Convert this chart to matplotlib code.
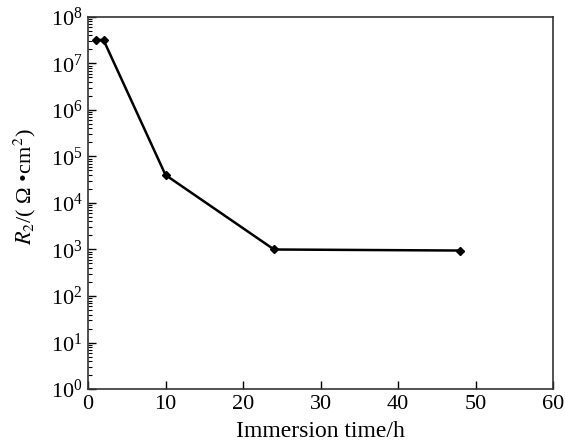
import numpy as np
import matplotlib
matplotlib.use('Agg')
from matplotlib import pyplot as plt
from matplotlib.ticker import LogLocator, NullFormatter, MultipleLocator

plt.rcParams['font.family'] = ['Liberation Serif', 'DejaVu Serif']
plt.rcParams['mathtext.fontset'] = 'stix'

time_h = [1, 2, 10, 24, 48]
r2 = [3.2e7, 3.2e7, 4.0e4, 1.0e3, 9.5e2]

fig = plt.figure(figsize=(5.65, 4.41), dpi=100)
ax = fig.add_axes([0.1558, 0.1179, 0.823, 0.8436])

ax.plot(time_h, r2, color='black', lw=1.8, marker='D', ms=4.5, mfc='black', mec='black')

ax.set_yscale('log')
ax.set_ylim(1, 1e8)
ax.set_xlim(0, 60)
ax.xaxis.set_major_locator(MultipleLocator(10))
ax.yaxis.set_major_locator(LogLocator(base=10, numticks=20))
ax.yaxis.set_minor_locator(LogLocator(base=10, subs=np.arange(2, 10), numticks=20))
ax.yaxis.set_minor_formatter(NullFormatter())

ax.tick_params(axis='both', which='major', direction='in', length=6, width=1, labelsize=16, pad=4)
ax.tick_params(axis='y', which='minor', direction='in', length=3, width=0.8)
ax.tick_params(top=False, right=False)
for s in ax.spines.values():
    s.set_linewidth(1.2)
    s.set_color('#333333')

ax.set_xlabel('Immersion time/h', fontsize=17, labelpad=5)
ax.set_ylabel(r'$R_2$/( Ω •cm$^2$)', fontsize=16)
ax.yaxis.set_label_coords(-0.108, 0.545)

plt.savefig('out.png', dpi=100)
